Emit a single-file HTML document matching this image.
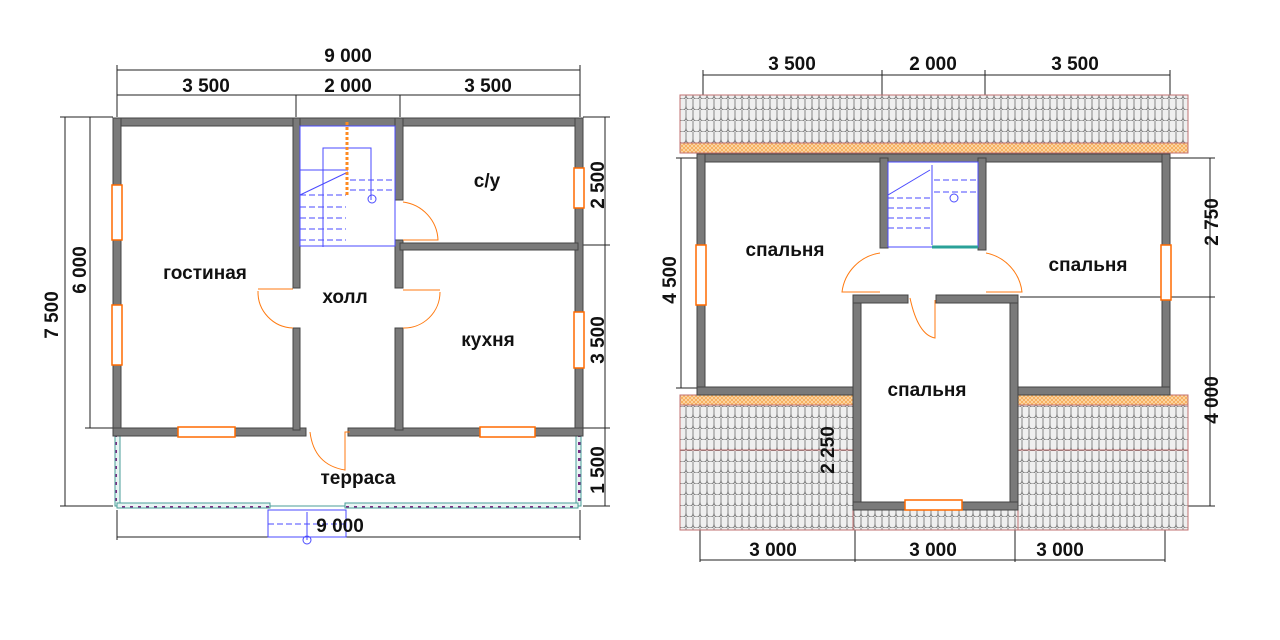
<!DOCTYPE html>
<html><head><meta charset="utf-8"><style>
html,body{margin:0;padding:0;background:#fff;}
svg{display:block;}
text{font-family:"Liberation Sans",Arial,sans-serif;font-weight:bold;fill:#111;text-anchor:middle;}
</style></head><body>
<svg width="1280" height="640" viewBox="0 0 1280 640" xmlns="http://www.w3.org/2000/svg">
<defs>
<pattern id="tile" x="0" y="0" width="7" height="11" patternUnits="userSpaceOnUse">
<rect width="7" height="11" fill="#efefef"/>
<path d="M0 0 V7 Q0 11 3.5 11 Q7 11 7 7 V0" fill="none" stroke="#7a7a7a" stroke-width="0.9"/>
</pattern>
<pattern id="orng" width="4" height="4" patternUnits="userSpaceOnUse">
<rect width="4" height="4" fill="#fcd9a8"/><path d="M0 0L4 4M4 0L0 4" stroke="#f39a3c" stroke-width="0.6"/>
</pattern>
<pattern id="rail" width="8" height="8" patternUnits="userSpaceOnUse">
<rect width="8" height="8" fill="#e8f4f3"/><rect x="2" y="2" width="3" height="3" fill="#7a2d84"/>
</pattern>
</defs>
<g stroke="#222" stroke-width="1" fill="none">
<line x1="117" y1="70" x2="580" y2="70"/>
<line x1="117" y1="95" x2="580" y2="95"/>
<line x1="117" y1="65" x2="117" y2="117"/><line x1="580" y1="65" x2="580" y2="117"/>
<line x1="296" y1="95" x2="296" y2="117"/><line x1="400" y1="95" x2="400" y2="117"/>
<line x1="65" y1="117" x2="65" y2="506"/><line x1="60" y1="117" x2="113" y2="117"/><line x1="60" y1="506" x2="113" y2="506"/>
<line x1="90" y1="117" x2="90" y2="428"/><line x1="85" y1="428" x2="113" y2="428"/>
<line x1="605" y1="117" x2="605" y2="506"/><line x1="583" y1="117" x2="610" y2="117"/><line x1="583" y1="245" x2="610" y2="245"/><line x1="583" y1="428" x2="610" y2="428"/><line x1="583" y1="506" x2="610" y2="506"/>
<line x1="117" y1="537" x2="580" y2="537"/><line x1="117" y1="510" x2="117" y2="540"/><line x1="580" y1="510" x2="580" y2="540"/>
<line x1="703" y1="75" x2="1170" y2="75"/>
<line x1="703" y1="70" x2="703" y2="155"/><line x1="882" y1="70" x2="882" y2="155"/><line x1="985" y1="70" x2="985" y2="155"/><line x1="1170" y1="70" x2="1170" y2="155"/>
<line x1="1210" y1="158" x2="1210" y2="506"/><line x1="1170" y1="158" x2="1215" y2="158"/><line x1="1020" y1="297" x2="1215" y2="297"/><line x1="1015" y1="506" x2="1215" y2="506"/>
<line x1="681" y1="158" x2="681" y2="388"/><line x1="676" y1="158" x2="697" y2="158"/><line x1="676" y1="388" x2="697" y2="388"/>
<line x1="838" y1="390" x2="838" y2="505"/><line x1="833" y1="390" x2="853" y2="390"/><line x1="833" y1="505" x2="853" y2="505"/>
<line x1="700" y1="560" x2="1165" y2="560"/>
<line x1="700" y1="395" x2="700" y2="562"/><line x1="855" y1="510" x2="855" y2="562"/><line x1="1015" y1="510" x2="1015" y2="562"/><line x1="1165" y1="395" x2="1165" y2="562"/>
</g>
<!-- LEFT PLAN -->
<rect x="115" y="436" width="5" height="70" fill="url(#rail)" stroke="#4a9e98"/>
<rect x="576" y="436" width="5" height="70" fill="url(#rail)" stroke="#4a9e98"/>
<rect x="117" y="503" width="153" height="5" fill="url(#rail)" stroke="#4a9e98"/>
<rect x="345" y="503" width="233" height="5" fill="url(#rail)" stroke="#4a9e98"/>
<line x1="270" y1="506" x2="345" y2="506" stroke="#4a9e98"/>
<g stroke="#4a4aff" fill="none" stroke-width="1">
<rect x="268" y="510" width="78" height="27"/>
<line x1="268" y1="524" x2="346" y2="524" stroke-dasharray="6 3"/>
<line x1="307" y1="512" x2="307" y2="540"/>
<circle cx="307" cy="540" r="4"/>
</g>
<g fill="#7a7a7a" stroke="#444" stroke-width="1">
<rect x="113" y="118" width="470" height="8"/>
<rect x="113" y="118" width="8" height="318"/>
<rect x="575" y="118" width="8" height="318"/>
<rect x="113" y="428" width="193" height="8"/>
<rect x="348" y="428" width="235" height="8"/>
<rect x="293" y="118" width="7" height="170"/>
<rect x="293" y="328" width="7" height="102"/>
<rect x="395" y="118" width="8" height="82"/>
<rect x="395" y="240" width="8" height="48"/>
<rect x="395" y="328" width="8" height="102"/>
<rect x="400" y="243" width="178" height="7"/>
</g>
<g fill="#fff" stroke="#ff6a00" stroke-width="1.5">
<rect x="112" y="185" width="10" height="55"/><rect x="112" y="305" width="10" height="60"/>
<rect x="574" y="168" width="10" height="40"/><rect x="574" y="312" width="10" height="56"/>
<rect x="178" y="427" width="57" height="10"/><rect x="480" y="427" width="55" height="10"/>
</g>
<g stroke="#4a4aff" fill="none" stroke-width="1">
<rect x="300" y="126" width="95" height="120"/>
<polyline points="323,247 323,148 371,148 371,200"/>
<line x1="300" y1="170" x2="348" y2="170"/>
<line x1="300" y1="195" x2="348" y2="172"/>
<g stroke-dasharray="6 3"><line x1="300" y1="195" x2="346" y2="195"/><line x1="300" y1="207" x2="346" y2="207"/><line x1="300" y1="218" x2="346" y2="218"/><line x1="300" y1="229" x2="346" y2="229"/><line x1="300" y1="240" x2="346" y2="240"/><line x1="350" y1="180" x2="395" y2="180"/><line x1="350" y1="190" x2="395" y2="190"/></g>
<circle cx="372" cy="199" r="4"/>
</g>
<g stroke="#ff8a20" fill="none"><line x1="347" y1="122" x2="347" y2="195" stroke-dasharray="3 2" stroke-width="3"/></g>
<g stroke="#ff7a10" fill="none" stroke-width="1">
<path d="M403 202 A40 40 0 0 1 438 240 L403 240"/>
<path d="M293 289 L258 289 M258 291 A36 36 0 0 0 293 328"/>
<path d="M403 290 L440 290 M440 292 A36 36 0 0 1 403 328"/>
<path d="M310 432 Q314 465 345 470 L345 432 L350 432"/>
</g>
<g font-size="19">
<text x="206" y="92">3 500</text>
<text x="348" y="92">2 000</text>
<text x="488" y="92">3 500</text>
<text x="348" y="62">9 000</text>
<text x="340" y="532">9 000</text>
<text transform="translate(58,315) rotate(-90)">7 500</text>
<text transform="translate(86,270) rotate(-90)">6 000</text>
<text transform="translate(604,185) rotate(-90)">2 500</text>
<text transform="translate(604,340) rotate(-90)">3 500</text>
<text transform="translate(604,470) rotate(-90)">1 500</text>
<text x="205" y="279">гостиная</text>
<text x="345" y="303">холл</text>
<text x="487" y="187">с/у</text>
<text x="488" y="346">кухня</text>
<text x="358" y="484">терраса</text>
</g>
<!-- RIGHT PLAN -->
<rect x="680" y="95" width="508" height="48" fill="url(#tile)" stroke="#c07070"/>
<rect x="680" y="143" width="508" height="10" fill="url(#orng)" stroke="#c07070"/>
<rect x="680" y="405" width="173" height="125" fill="url(#tile)" stroke="#c07070"/>
<rect x="680" y="395" width="173" height="10" fill="url(#orng)" stroke="#c07070"/>
<rect x="1018" y="405" width="170" height="125" fill="url(#tile)" stroke="#c07070"/>
<rect x="1018" y="395" width="170" height="10" fill="url(#orng)" stroke="#c07070"/>
<rect x="853" y="505" width="165" height="25" fill="url(#tile)" stroke="#c07070"/>
<line x1="680" y1="450" x2="853" y2="450" stroke="#c07070"/><line x1="1018" y1="450" x2="1188" y2="450" stroke="#c07070"/>
<g fill="#7a7a7a" stroke="#444" stroke-width="1">
<rect x="697" y="154" width="473" height="8"/>
<rect x="697" y="154" width="8" height="241"/>
<rect x="1162" y="154" width="8" height="241"/>
<rect x="697" y="387" width="158" height="8"/>
<rect x="1015" y="387" width="155" height="8"/>
<rect x="880" y="158" width="8" height="90"/>
<rect x="978" y="158" width="8" height="92"/>
<rect x="853" y="295" width="8" height="215"/>
<rect x="1010" y="295" width="8" height="215"/>
<rect x="853" y="502" width="165" height="8"/>
<rect x="853" y="295" width="55" height="8"/>
<rect x="936" y="295" width="82" height="8"/>
</g>
<g fill="#fff" stroke="#ff6a00" stroke-width="1.5">
<rect x="696" y="245" width="10" height="60"/><rect x="1161" y="245" width="10" height="55"/>
<rect x="905" y="500" width="57" height="10"/>
</g>
<g stroke="#4a4aff" fill="none" stroke-width="1">
<rect x="888" y="162" width="90" height="85"/>
<line x1="888" y1="195" x2="930" y2="170"/>
<g stroke-dasharray="6 3"><line x1="888" y1="198" x2="930" y2="198"/><line x1="888" y1="208" x2="930" y2="208"/><line x1="888" y1="218" x2="930" y2="218"/><line x1="888" y1="228" x2="930" y2="228"/><line x1="934" y1="180" x2="978" y2="180"/><line x1="934" y1="192" x2="978" y2="192"/></g>
<line x1="932" y1="165" x2="932" y2="245"/>
<circle cx="954" cy="198" r="4"/>
</g>
<line x1="932" y1="247" x2="978" y2="247" stroke="#2aa198" stroke-width="3"/>
<g stroke="#ff7a10" fill="none" stroke-width="1">
<path d="M880 253 A45 45 0 0 0 842 292 L880 292"/>
<path d="M986 253 A45 45 0 0 1 1022 292 L986 292"/>
<path d="M910 298 Q918 335 935 338 L935 300"/>
</g>
<g font-size="19">
<text x="792" y="70">3 500</text>
<text x="933" y="70">2 000</text>
<text x="1075" y="70">3 500</text>
<text x="773" y="556">3 000</text>
<text x="933" y="556">3 000</text>
<text x="1060" y="556">3 000</text>
<text transform="translate(676,280) rotate(-90)">4 500</text>
<text transform="translate(834,450) rotate(-90)">2 250</text>
<text transform="translate(1218,222) rotate(-90)">2 750</text>
<text transform="translate(1218,400) rotate(-90)">4 000</text>
<text x="785" y="256">спальня</text>
<text x="1088" y="271">спальня</text>
<text x="927" y="396">спальня</text>
</g>
</svg>
</body></html>
